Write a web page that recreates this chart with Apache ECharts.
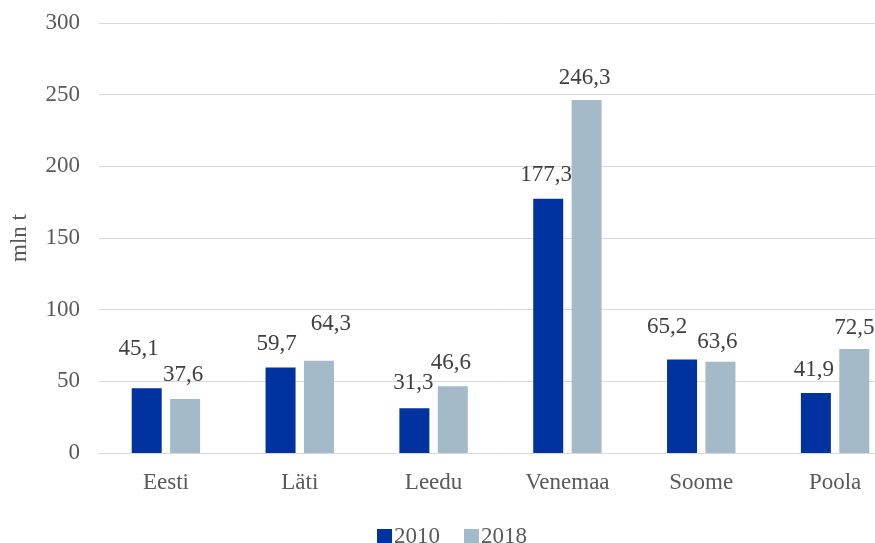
<!DOCTYPE html>
<html>
<head>
<meta charset="utf-8">
<script src="https://cdn.jsdelivr.net/npm/echarts@6/dist/echarts.min.js"></script>
<style>html,body{margin:0;padding:0;background:#fff;overflow:hidden}#c{width:904px;height:543px}</style>
</head>
<body>
<div id="c"></div>
<script>
var categories = ['Eesti', 'Läti', 'Leedu', 'Venemaa', 'Soome', 'Poola'];
var seriesNames = ['2010', '2018'];
var values2010 = [45.1, 59.7, 31.3, 177.3, 65.2, 41.9];
var values2018 = [37.6, 64.3, 46.6, 246.3, 63.6, 72.5];
var yTicks = [0, 50, 100, 150, 200, 250, 300];
// manual label nudges (as placed in the original)
var labelOffsets2010 = [[-8, -28], [-4, -12], [-1, -14], [-2, -13], [-15, -22], [-2, -12]];
var labelOffsets2018 = [[-2, -13], [12, -26], [-2, -12], [-2, -11], [-3, -9], [0, -10]];

var FONT = '"Liberation Serif", "Times New Roman", serif';
var TXT = '#595959';
var FS = 23;

function buildData(vals, offs) {
  return vals.map(function (v, i) {
    return { value: v, label: { offset: offs[i] } };
  });
}
function fmt(p) { return String(p.value).replace('.', ','); }

var chart = echarts.init(document.getElementById('c'), null, { renderer: 'canvas' });
chart.setOption({
  animation: false,
  backgroundColor: '#ffffff',
  grid: { left: 96.5, right: 2, top: 23, bottom: 90, containLabel: false },
  legend: {
    data: seriesNames,
    top: 520,
    left: 'center',
    itemWidth: 15,
    itemHeight: 15,
    itemGap: 24,
    icon: 'rect',
    textStyle: { fontFamily: FONT, fontSize: FS, color: TXT, padding: [0, 0, 0, -3] }
  },
  xAxis: {
    type: 'category',
    data: categories,
    axisTick: { show: false },
    axisLine: { lineStyle: { color: '#D9D9D9', width: 1 } },
    axisLabel: { fontFamily: FONT, fontSize: FS, color: TXT, margin: 18 }
  },
  yAxis: {
    type: 'value',
    min: yTicks[0],
    max: yTicks[yTicks.length - 1],
    interval: yTicks[1] - yTicks[0],
    name: 'mln t',
    nameLocation: 'middle',
    nameGap: 68,
    nameRotate: 90,
    nameTextStyle: { fontFamily: FONT, fontSize: FS, color: TXT },
    axisLine: { show: false },
    axisTick: { show: false },
    splitLine: { lineStyle: { color: '#D9D9D9', width: 1 } },
    axisLabel: { fontFamily: FONT, fontSize: FS, color: TXT, margin: 19 }
  },
  series: [
    {
      name: seriesNames[0],
      type: 'bar',
      barWidth: 30,
      barGap: '28%',
      itemStyle: { color: '#0033A0' },
      label: { show: true, position: 'top', distance: 0, formatter: fmt,
               fontFamily: FONT, fontSize: FS, lineHeight: 22, color: '#404040' },
      data: buildData(values2010, labelOffsets2010)
    },
    {
      name: seriesNames[1],
      type: 'bar',
      barWidth: 30,
      itemStyle: { color: '#A5BAC9' },
      label: { show: true, position: 'top', distance: 0, formatter: fmt,
               fontFamily: FONT, fontSize: FS, lineHeight: 22, color: '#404040' },
      data: buildData(values2018, labelOffsets2018)
    }
  ]
});
</script>
</body>
</html>
